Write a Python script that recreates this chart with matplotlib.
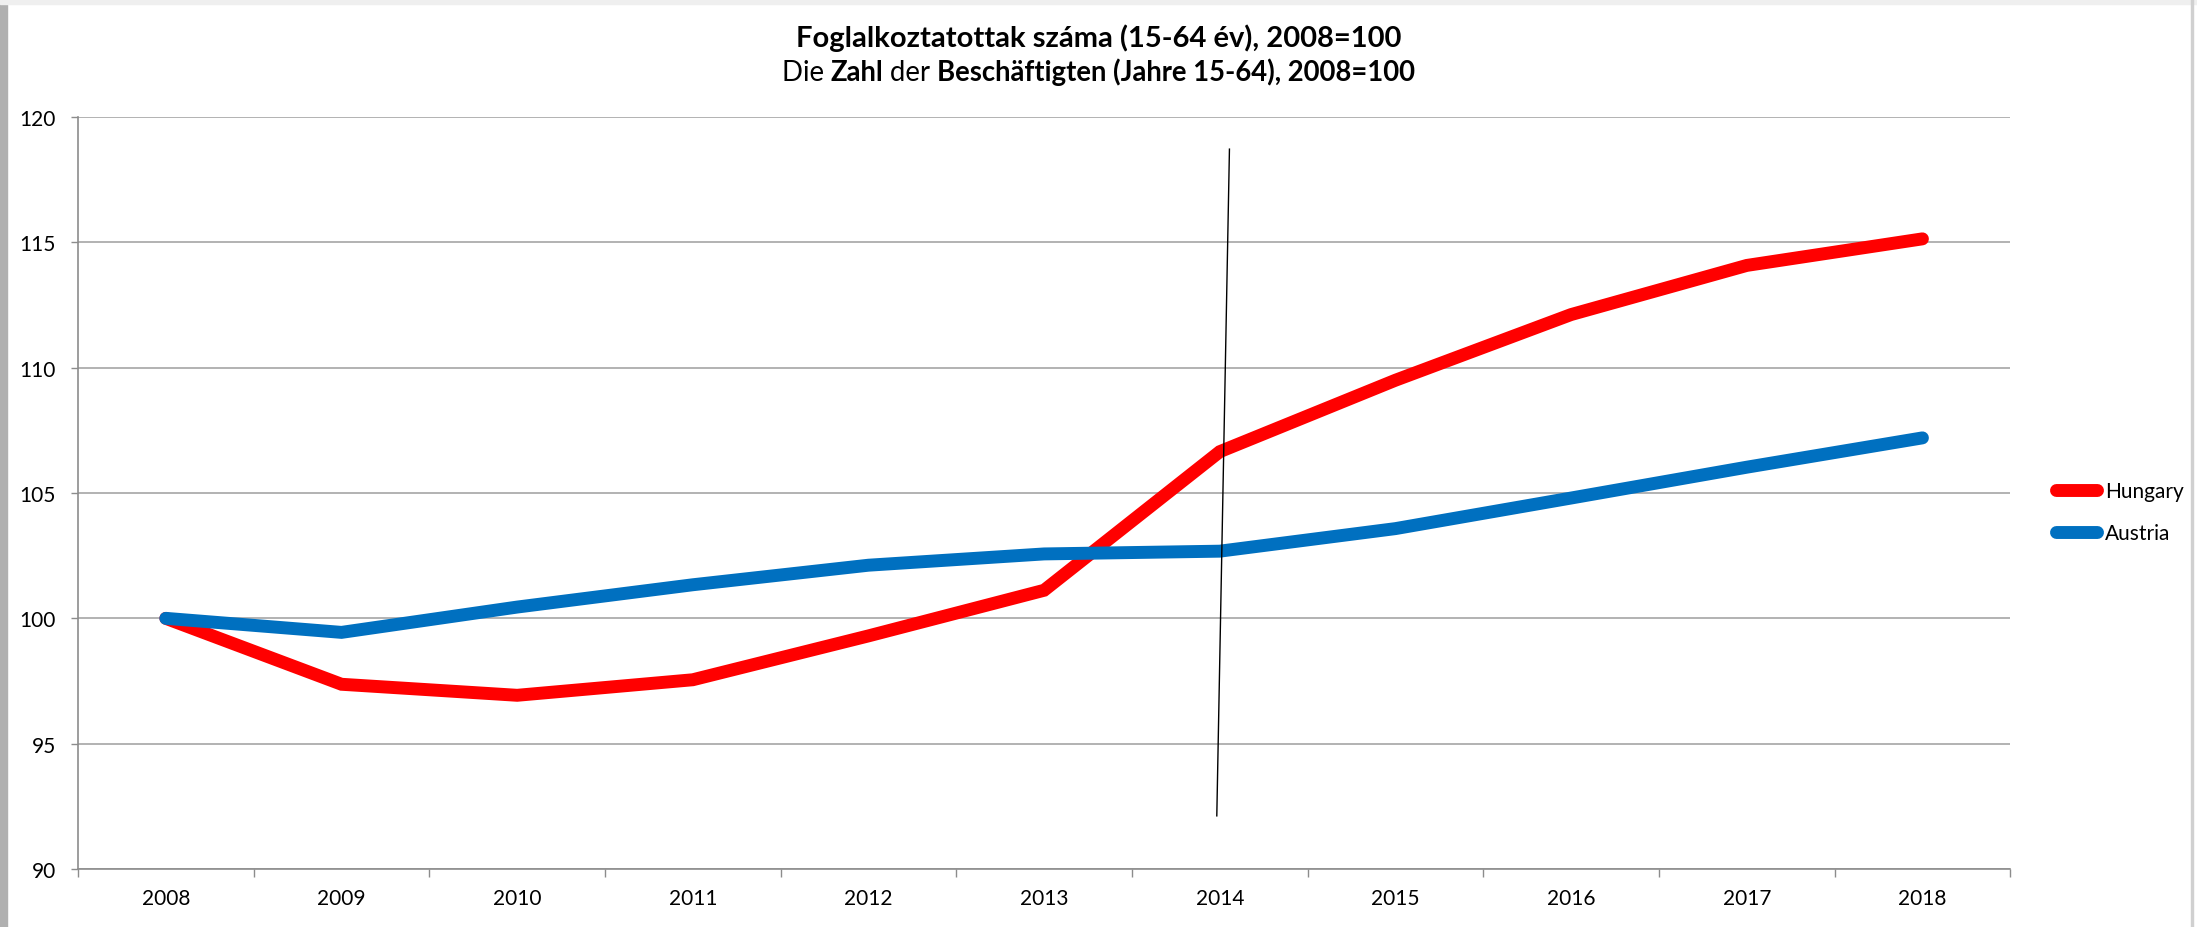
import matplotlib
matplotlib.use("Agg")
import matplotlib.pyplot as plt
from matplotlib.patches import Rectangle
import numpy as np

# data
years = ['2008', '2009', '2010', '2011', '2012', '2013', '2014', '2015', '2016', '2017', '2018']
hungary = [100.0, 97.37, 96.93, 97.55, 99.3, 101.12, 106.65, 109.5, 112.12, 114.08, 115.14]
austria = [100.0, 99.44, 100.45, 101.34, 102.12, 102.57, 102.68, 103.58, 104.8, 106.03, 107.2]
# hand drawn marker line around 2014 (category index, value)
mark_x = [6.055, 5.983]
mark_y = [118.72, 92.12]

fig = plt.figure(figsize=(21.97, 9.28), dpi=100)
ax = fig.add_axes([0.0355, 0.0625, 0.8795, 0.8103])

x = np.arange(len(years))
ax.plot(x, hungary, color='#FF0000', lw=9.3, solid_capstyle='round', solid_joinstyle='miter', label='Hungary', zorder=3)
ax.plot(x, austria, color='#0070C0', lw=9.3, solid_capstyle='round', solid_joinstyle='miter', label='Austria', zorder=3)
ax.plot(mark_x, mark_y, color='black', lw=1, zorder=4)

ax.set_xlim(-0.5, len(years) - 0.5)
ax.set_ylim(90, 120)
ax.set_yticks(np.arange(90, 121, 5))
ax.set_xticks(x)
ax.set_xticklabels(years)
ax.set_xticks(np.arange(-0.5, len(years), 1), minor=True)
ax.grid(axis='y', color='#A6A6A6', lw=1.2)
ax.set_axisbelow(True)

for s in ['top', 'right']:
    ax.spines[s].set_visible(False)
for s in ['left', 'bottom']:
    ax.spines[s].set_color('#8C8C8C')
    ax.spines[s].set_linewidth(1.2)

for lab in ax.get_xticklabels() + ax.get_yticklabels():
    lab.set_family('Lato')
ax.tick_params(axis='y', length=5, width=1, color='#8C8C8C', pad=11, labelsize=15)
ax.tick_params(axis='x', which='major', length=0, pad=14, labelsize=15)
ax.tick_params(axis='x', which='minor', length=6, width=1, color='#8C8C8C')

leg = fig.legend(loc='upper left', bbox_to_anchor=(2046 / 2197, 1 - 472 / 928), frameon=False,
                 handlelength=1.95, handletextpad=0.4, labelspacing=1.05,
                 prop={'family': 'Lato', 'size': 15}, borderpad=0)

# title, second line has mixed weights
fig.text(0.5, 1 - 38 / 928, 'Foglalkoztatottak száma (15-64 év), 2008=100',
         ha='center', va='center', weight='bold', family='Lato', size=21)
parts = [('Die ', 'normal'), ('Zahl', 'bold'), (' der ', 'normal'),
         ('Beschäftigten (Jahre 15-64), 2008=100', 'bold')]
fig.canvas.draw()
r = fig.canvas.get_renderer()
texts = []
total = 0
for s, w in parts:
    t = fig.text(0, 1 - 81 / 928, s, ha='left', va='baseline', weight=w, family='Lato', size=19.8)
    bb = t.get_window_extent(renderer=r)
    texts.append((t, bb.width))
    total += bb.width
pos = (fig.bbox.width - total) / 2
for t, wdt in texts:
    t.set_x(pos / fig.bbox.width)
    pos += wdt

# screenshot frame edges
fig.patches.append(Rectangle((0, 0), 7 / 2197, 1, transform=fig.transFigure, color='#B0B0B0', zorder=0))
fig.patches.append(Rectangle((0, 1 - 5 / 928), 1, 5 / 928, transform=fig.transFigure, color='#EFEFEF', zorder=0))
fig.patches.append(Rectangle((2191 / 2197, 0), 2 / 2197, 1, transform=fig.transFigure, color='#D0D0D0', zorder=0))

fig.savefig('out.png', dpi=100)
